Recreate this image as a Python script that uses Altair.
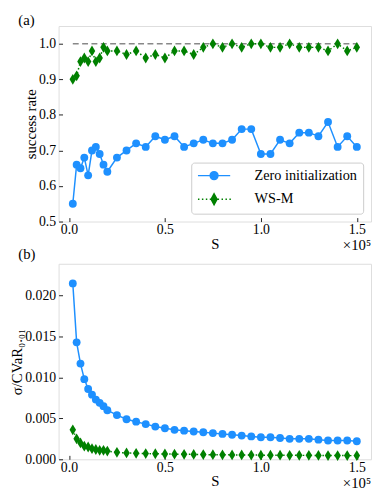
import altair as alt
import pandas as pd

# ---------------- data ----------------
S = [2000, 4000, 6000, 8000, 10000, 12000, 14000, 16000, 18000, 20000,
     25000, 30000, 35000, 40000, 45000, 50000, 55000, 60000, 65000, 70000,
     75000, 80000, 85000, 90000, 95000, 100000, 105000, 110000, 115000, 120000,
     125000, 130000, 135000, 140000, 145000, 150000]

success_zero = [0.55, 0.66, 0.65, 0.68, 0.63, 0.70, 0.71, 0.69, 0.66, 0.64,
                0.68, 0.70, 0.72, 0.71, 0.74, 0.73, 0.74, 0.71, 0.72, 0.73,
                0.72, 0.72, 0.73, 0.76, 0.76, 0.69, 0.69, 0.73, 0.72, 0.75,
                0.75, 0.74, 0.78, 0.71, 0.74, 0.71]

success_wsm = [0.90, 0.91, 0.95, 0.96, 0.95, 0.98, 0.95, 0.96, 0.99, 0.98,
               0.98, 0.97, 0.98, 0.96, 0.97, 0.96, 0.98, 0.98, 0.97, 0.99,
               1.00, 0.99, 1.00, 0.99, 1.00, 1.00, 0.99, 0.99, 1.00, 0.99,
               0.99, 0.99, 0.98, 1.00, 0.98, 0.99]

sigma_zero = [0.0215, 0.0143, 0.0117, 0.0098, 0.0086, 0.0079, 0.0073, 0.0069, 0.0065, 0.0060,
              0.0054, 0.0049, 0.0046, 0.0043, 0.0040, 0.0038, 0.0036, 0.0035, 0.0034, 0.0033,
              0.0032, 0.0031, 0.0030, 0.0029, 0.0028, 0.0027, 0.0027, 0.0026, 0.0025, 0.0025,
              0.0025, 0.0024, 0.0023, 0.0023, 0.0023, 0.0022]

sigma_wsm = [0.0036, 0.0025, 0.0020, 0.0016, 0.0015, 0.0013, 0.0012, 0.0011, 0.0011, 0.0010,
             0.00085, 0.00078, 0.00073, 0.0007, 0.00068, 0.00065, 0.00063, 0.00061, 0.0006, 0.00058,
             0.00056, 0.00055, 0.00054, 0.00053, 0.00052, 0.00051, 0.0005, 0.0005, 0.00049, 0.00048,
             0.00048, 0.00047, 0.00046, 0.00046, 0.00045, 0.00045]

series_names = ["Zero initialization", "WS-M"]
ref_S = [2000, 150000]
ref_level = [1.0, 1.0]

x_ticks = [0, 50000, 100000, 150000]
success_ticks = [0.5, 0.6, 0.7, 0.8, 0.9, 1.0]
sigma_ticks = [0.0, 0.005, 0.010, 0.015, 0.020]

x_domain = [-5400, 157400]
success_domain = [0.5, 1.05]
sigma_domain = [0.0, 0.0239]

# ---------------- style ----------------
W, H = 318, 199
BLUE = "#1E90FF"
GREEN = "#008000"
FONT = "Liberation Serif"
TICK_FS = 14
TITLE_FS = 15
LEG_FS = 14.5

THIN_DIAMOND = "M0,-1L0.6,0L0,1L-0.6,0Z"

# legend symbols (unit = 4 px for symbol size 64)
LEG_CIRCLE = "M-4.1,0H4.1M1,0A1,1 0 1,1 -1,0A1,1 0 1,1 1,0Z"
dots = "".join("M%.3f,0h0.375" % (-4.1 + k) for k in range(9))
LEG_DIAMOND = dots + "M0,-1.375L0.75,0L0,1.375L-0.75,0Z"


def axis_common(**kw):
    base = dict(grid=False, domain=False, labelFont=FONT, titleFont=FONT,
                labelFontSize=TICK_FS, titleFontSize=TITLE_FS, labelColor="black",
                titleColor="black", titleFontWeight="normal")
    base.update(kw)
    return alt.Axis(**base)


def make_panel(vals_zero, vals_wsm, ydomain, yticks, yfmt, ytitle, with_legend, extra_texts):
    dz = pd.DataFrame({"S": S, "v": vals_zero, "series": series_names[0]})
    dw = pd.DataFrame({"S": S, "v": vals_wsm, "series": series_names[1]})
    dnone = pd.DataFrame({"S": [None, None], "v": [None, None], "series": series_names})

    xs = alt.Scale(domain=x_domain, nice=False, zero=False)
    ys = alt.Scale(domain=ydomain, nice=False, zero=False)

    x_main = alt.X("S:Q", scale=xs, axis=axis_common(
        orient="bottom", values=x_ticks, ticks=False, title="S",
        labelExpr="format(datum.value/100000, '.1f')", labelPadding=1, titlePadding=0,
        labelFlush=False))
    y_main = alt.Y("v:Q", scale=ys, axis=axis_common(
        orient="left", values=yticks, format=yfmt, ticks=False, title=ytitle,
        labelPadding=3, titlePadding=0))
    x_none = alt.X("S:Q", scale=xs, axis=None)
    y_none = alt.Y("v:Q", scale=ys, axis=None)

    layers = []
    if with_legend:
        dref = pd.DataFrame({"S": ref_S, "v": ref_level})
        layers.append(alt.Chart(dref).mark_line(color="#888888", strokeDash=[6, 3.5], strokeWidth=1.5)
                      .encode(x=x_none, y=y_none))

    layers.append(alt.Chart(dz).mark_line(color=BLUE, strokeWidth=1.5).encode(x=x_main, y=y_main))
    layers.append(alt.Chart(dw).mark_line(color=GREEN, strokeWidth=1.5, strokeDash=[1.5, 2.5])
                  .encode(x=x_none, y=y_none))
    layers.append(alt.Chart(dz).mark_point(shape="circle", filled=True, size=64, color=BLUE, opacity=1)
                  .encode(x=x_none, y=y_none))
    layers.append(alt.Chart(dw).mark_point(shape=THIN_DIAMOND, filled=True, size=121, color=GREEN, opacity=1)
                  .encode(x=x_none, y=y_none))

    # inward ticks
    layers.append(alt.Chart(dnone).mark_point().encode(
        x=alt.X("S:Q", scale=xs, axis=alt.Axis(orient="top", offset=-H, values=x_ticks, labels=False,
                                               domain=False, grid=False, ticks=True, tickSize=4,
                                               tickColor="#222", tickWidth=1, title=None)),
        y=alt.Y("v:Q", scale=ys, axis=alt.Axis(orient="right", offset=-W, values=yticks, labels=False,
                                               domain=False, grid=False, ticks=True, tickSize=4,
                                               tickColor="#222", tickWidth=1, title=None)),
    ))

    if with_legend:
        leg = alt.Legend(title=None, orient="bottom-right", offset=8, padding=6,
                         strokeColor="#cccccc", fillColor="white", cornerRadius=3,
                         rowPadding=7, symbolSize=64, symbolStrokeWidth=1.5,
                         symbolOffset=10, labelOffset=34, labelFont=FONT,
                         labelFontSize=LEG_FS, labelColor="black", symbolOpacity=1)
        layers.append(alt.Chart(dnone).mark_point(strokeWidth=1.5, size=64).encode(
            x=x_none, y=y_none,
            shape=alt.Shape("series:N", scale=alt.Scale(domain=series_names, range=[LEG_CIRCLE, LEG_DIAMOND]), legend=leg),
            fill=alt.Fill("series:N", scale=alt.Scale(domain=series_names, range=[BLUE, GREEN]), legend=leg),
            stroke=alt.Stroke("series:N", scale=alt.Scale(domain=series_names, range=[BLUE, GREEN]), legend=leg),
        ))

    for txt, xv, yv, align in extra_texts:
        layers.append(alt.Chart(pd.DataFrame({"t": [txt]})).mark_text(
            align=align, baseline="middle", font=FONT, fontSize=TITLE_FS, color="black")
            .encode(x=alt.value(xv), y=alt.value(yv), text="t:N"))

    return alt.layer(*layers).resolve_axis(x="independent", y="independent").properties(width=W, height=H)


top = make_panel(success_zero, success_wsm, success_domain, success_ticks, ".1f", "success rate", True,
                 [("(a)", -41, -6, "left"), ("×10⁵", W, H + 24, "right"), ("(b)", -41, H + 33, "left")])
bottom = make_panel(sigma_zero, sigma_wsm, sigma_domain, sigma_ticks, ".3f", "σ/CVaR₀.₀₁", False,
                    [("×10⁵", W, H + 24, "right")])

chart = (
    alt.vconcat(top, bottom, spacing=0)
    .resolve_scale(shape="independent", fill="independent", stroke="independent")
    .resolve_legend(shape="independent", fill="independent", stroke="independent")
    .properties(padding={"left": 1.5, "top": 0, "right": 0, "bottom": 0})
    .configure_view(stroke="#333333", strokeWidth=1)
    .configure(font=FONT)
    .configure_axis(labelFont=FONT, titleFont=FONT)
    .configure_legend(labelFont=FONT)
    .configure_text(font=FONT)
)

chart.save("out.html", embed_options={"renderer": "svg", "actions": False})
